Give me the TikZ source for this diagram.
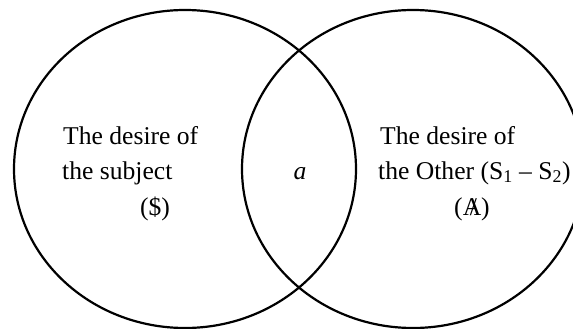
\documentclass[tikz,border=0pt]{standalone}
\usepackage{fontspec}
\setmainfont{Liberation Serif}
\newcommand{\slashA}{{\ooalign{A\cr\hfil\hspace{0.12em}/\hfil\cr}}}
\begin{document}
\begin{tikzpicture}[x=1pt,y=-1pt,
  lbl/.style={inner sep=0pt, font=\fontsize{25.6}{30}\selectfont},
  ring/.style={draw=black, line width=2.2pt}]
\useasboundingbox (0,0) rectangle (573,329);
\fill[white] (0,0) rectangle (573,329);
\draw[ring] (185,169) ellipse [x radius=171pt, y radius=159pt];
\draw[ring] (413,169) ellipse [x radius=171pt, y radius=159pt];
% left circle text
\node[lbl, anchor=base west] (l1) at (63,144) {The desire of};
\node[lbl, anchor=base west] (l2) at (62,179) {the subject};
\node[lbl, anchor=base] (l3) at (155,215) {(\$)};
% intersection
\node[lbl, anchor=base] (mid) at (300,179) {\textit{a}};
% right circle text
\node[lbl, anchor=base west] (r1) at (380,144) {The desire of};
\node[lbl, anchor=base west] (r2) at (378,179) {the Other (S\textsubscript{1} -- S\textsubscript{2})};
\node[lbl, anchor=base] (r3) at (472,215) {(\slashA)};
\end{tikzpicture}
\end{document}
